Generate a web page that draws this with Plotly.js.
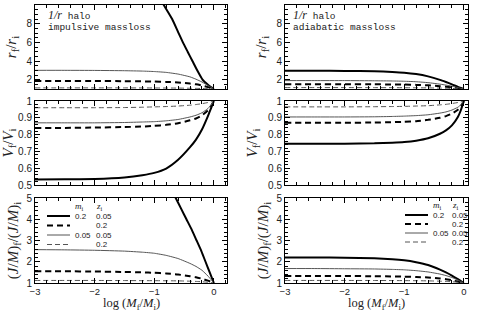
<!DOCTYPE html>
<html><head><meta charset="utf-8">
<script src="https://cdn.plot.ly/plotly-3.0.1.min.js"></script>
<style>html,body{margin:0;padding:0;background:#fff}#c{width:480px;height:313px}</style>
</head><body><div id="c"></div>
<script>
// ---- data ----
const logM = [-3, -2.5, -2, -1.5, -1.2, -1, -0.8, -0.6, -0.4, -0.3, -0.2, -0.1, -0.05, 0];

// impulsive mass loss
const impR_m02z005_x = [-0.95, -0.84, -0.7, -0.6, -0.52, -0.44, -0.36, -0.28, -0.19, -0.1, -0.05, 0];
const impR_m02z005   = [11.2, 10.0, 8.5, 7.1, 6.0, 5.0, 4.0, 3.0, 2.0, 1.45, 1.2, 1.0];
const impR_m02z02    = [1.86, 1.86, 1.85, 1.84, 1.82, 1.8, 1.76, 1.7, 1.58, 1.5, 1.38, 1.2, 1.1, 1.0];
const impR_m005z005  = [3.0, 3.0, 2.99, 2.96, 2.92, 2.87, 2.78, 2.6, 2.3, 2.05, 1.75, 1.38, 1.2, 1.0];
const impR_m005z02   = [1.12, 1.12, 1.12, 1.12, 1.115, 1.11, 1.105, 1.1, 1.08, 1.07, 1.05, 1.03, 1.015, 1.0];

const impV_m02z005   = [0.533, 0.534, 0.536, 0.545, 0.558, 0.572, 0.598, 0.65, 0.725, 0.77, 0.83, 0.91, 0.955, 1.0];
const impV_m02z02    = [0.84, 0.84, 0.842, 0.845, 0.848, 0.852, 0.858, 0.868, 0.885, 0.896, 0.915, 0.945, 0.97, 1.0];
const impV_m005z005  = [0.87, 0.87, 0.87, 0.872, 0.875, 0.877, 0.882, 0.89, 0.905, 0.915, 0.93, 0.955, 0.975, 1.0];
const impV_m005z02   = [0.96, 0.96, 0.96, 0.961, 0.963, 0.965, 0.967, 0.97, 0.975, 0.979, 0.984, 0.991, 0.995, 1.0];

const impJ_m02z005_x = [-0.75, -0.64, -0.55, -0.46, -0.37, -0.29, -0.21, -0.14, -0.07, 0];
const impJ_m02z005   = [5.6, 5.0, 4.5, 4.0, 3.5, 3.0, 2.5, 2.0, 1.5, 1.0];
const impJ_m02z02    = [1.55, 1.55, 1.54, 1.52, 1.5, 1.48, 1.45, 1.4, 1.32, 1.27, 1.2, 1.11, 1.055, 1.0];
const impJ_m005z005  = [2.57, 2.56, 2.54, 2.5, 2.45, 2.4, 2.3, 2.15, 1.92, 1.78, 1.6, 1.33, 1.17, 1.0];
const impJ_m005z02   = [1.12, 1.12, 1.12, 1.115, 1.11, 1.11, 1.105, 1.1, 1.085, 1.075, 1.06, 1.035, 1.02, 1.0];

// adiabatic mass loss
const adiR_m02z005   = [2.95, 2.95, 2.94, 2.9, 2.83, 2.75, 2.6, 2.35, 1.98, 1.75, 1.5, 1.23, 1.11, 1.0];
const adiR_m02z02    = [1.52, 1.52, 1.51, 1.5, 1.49, 1.47, 1.44, 1.39, 1.3, 1.25, 1.18, 1.09, 1.045, 1.0];
const adiR_m005z005  = [1.9, 1.9, 1.9, 1.88, 1.86, 1.83, 1.78, 1.68, 1.52, 1.42, 1.3, 1.15, 1.07, 1.0];
const adiR_m005z02   = [1.15, 1.15, 1.15, 1.145, 1.14, 1.135, 1.13, 1.12, 1.1, 1.08, 1.06, 1.03, 1.015, 1.0];

const adiV_m02z005   = [0.745, 0.745, 0.746, 0.748, 0.752, 0.756, 0.764, 0.778, 0.805, 0.825, 0.855, 0.905, 0.945, 1.0];
const adiV_m02z02    = [0.87, 0.87, 0.87, 0.872, 0.874, 0.876, 0.88, 0.888, 0.9, 0.91, 0.925, 0.948, 0.968, 1.0];
const adiV_m005z005  = [0.905, 0.905, 0.905, 0.906, 0.908, 0.91, 0.913, 0.918, 0.928, 0.935, 0.946, 0.963, 0.978, 1.0];
const adiV_m005z02   = [0.965, 0.965, 0.965, 0.966, 0.967, 0.968, 0.97, 0.972, 0.977, 0.98, 0.985, 0.991, 0.995, 1.0];

const adiJ_m02z005   = [2.2, 2.2, 2.19, 2.16, 2.12, 2.07, 1.98, 1.85, 1.63, 1.5, 1.35, 1.18, 1.09, 1.0];
const adiJ_m02z02    = [1.33, 1.33, 1.33, 1.32, 1.31, 1.3, 1.28, 1.26, 1.21, 1.18, 1.13, 1.07, 1.035, 1.0];
const adiJ_m005z005  = [1.68, 1.68, 1.67, 1.66, 1.64, 1.62, 1.58, 1.52, 1.42, 1.35, 1.26, 1.14, 1.07, 1.0];
const adiJ_m005z02   = [1.12, 1.12, 1.12, 1.118, 1.115, 1.112, 1.108, 1.1, 1.085, 1.075, 1.06, 1.035, 1.02, 1.0];

// legend labels
const legM = ["0.2", "", "0.05", ""];
const legZ = ["0.05", "0.2", "0.05", "0.2"];

// ---- styles ----
const W = 480, H = 313;
const px = v => v / W, py = v => 1 - v / H;
const styles = [
  {color: '#000', width: 2, dash: 'solid'},
  {color: '#000', width: 2, dash: '6px,4px'},
  {color: '#555', width: 1, dash: 'solid'},
  {color: '#555', width: 1, dash: '5px,3px'}
];

function tr(x, y, s, xa, ya) {
  return {x: x, y: y, type: 'scatter', mode: 'lines', xaxis: xa, yaxis: ya,
    line: {color: s.color, width: s.width, dash: s.dash, shape: 'spline', smoothing: 0.45},
    hoverinfo: 'skip', showlegend: false};
}

const data = [
  tr(impR_m02z005_x, impR_m02z005, styles[0], 'x', 'y'),
  tr(logM, impR_m02z02, styles[1], 'x', 'y'),
  tr(logM, impR_m005z005, styles[2], 'x', 'y'),
  tr(logM, impR_m005z02, styles[3], 'x', 'y'),
  tr(logM, adiR_m02z005, styles[0], 'x2', 'y2'),
  tr(logM, adiR_m02z02, styles[1], 'x2', 'y2'),
  tr(logM, adiR_m005z005, styles[2], 'x2', 'y2'),
  tr(logM, adiR_m005z02, styles[3], 'x2', 'y2'),
  tr(logM, impV_m02z005, styles[0], 'x3', 'y3'),
  tr(logM, impV_m02z02, styles[1], 'x3', 'y3'),
  tr(logM, impV_m005z005, styles[2], 'x3', 'y3'),
  tr(logM, impV_m005z02, styles[3], 'x3', 'y3'),
  tr(logM, adiV_m02z005, styles[0], 'x4', 'y4'),
  tr(logM, adiV_m02z02, styles[1], 'x4', 'y4'),
  tr(logM, adiV_m005z005, styles[2], 'x4', 'y4'),
  tr(logM, adiV_m005z02, styles[3], 'x4', 'y4'),
  tr(impJ_m02z005_x, impJ_m02z005, styles[0], 'x5', 'y5'),
  tr(logM, impJ_m02z02, styles[1], 'x5', 'y5'),
  tr(logM, impJ_m005z005, styles[2], 'x5', 'y5'),
  tr(logM, impJ_m005z02, styles[3], 'x5', 'y5'),
  tr(logM, adiJ_m02z005, styles[0], 'x6', 'y6'),
  tr(logM, adiJ_m02z02, styles[1], 'x6', 'y6'),
  tr(logM, adiJ_m005z005, styles[2], 'x6', 'y6'),
  tr(logM, adiJ_m005z02, styles[3], 'x6', 'y6')
];

const tickFont = {family: 'Liberation Sans, Arial, sans-serif', size: 10, color: '#222'};
const xTickFont = {family: 'Liberation Sans, Arial, sans-serif', size: 9.5, color: '#222'};
const titleFont = {family: 'Liberation Serif, Times New Roman, serif', size: 15, color: '#222'};
function ax(extra) {
  return Object.assign({
    showline: true, mirror: 'ticks', linecolor: '#000', linewidth: 1,
    ticks: 'inside', ticklen: 5, tickcolor: '#000', tickwidth: 1,
    zeroline: false, showgrid: false, tickfont: tickFont, fixedrange: true
  }, extra);
}
const minorX = {dtick: 0.2, ticks: 'inside', ticklen: 3, tickcolor: '#000'};
const colL = [px(35), px(227)], colR = [px(285), px(468)];
const rowT = [py(89), py(5)], rowM = [py(185), py(101)], rowB = [py(283), py(198)];
const xL = {range: [-3, 0.22], tick0: 0, dtick: 1, minor: minorX, tickfont: xTickFont};
const xR = {range: [-3, 0.07], tick0: 0, dtick: 1, minor: minorX, tickfont: xTickFont};
const yR = {range: [1, 10], tickmode: 'array', tickvals: [2, 4, 6, 8, 10],
  minor: {tickmode: 'linear', tick0: 0, dtick: 0.5, ticks: 'inside', ticklen: 3, tickcolor: '#000'}};
const yV = {range: [0.5, 1], tick0: 0.5, dtick: 0.1, tickformat: '.1~f',
  minor: {dtick: 0.02, ticks: 'inside', ticklen: 3, tickcolor: '#000'}};
const yJ = {range: [1, 5], tick0: 1, dtick: 1,
  minor: {dtick: 0.2, ticks: 'inside', ticklen: 3, tickcolor: '#000'}};
const tR = {text: '<i>r</i><sub>f</sub>/<i>r</i><sub>i</sub>', font: titleFont, standoff: 6};
const tV = {text: '<i>V</i><sub>f</sub>/<i>V</i><sub>i</sub>', font: titleFont, standoff: 6};
const tJ = {text: '(<i>J</i>/<i>M</i>)<sub>f</sub>/(<i>J</i>/<i>M</i>)<sub>i</sub>', font: titleFont, standoff: 4};

const layout = {
  width: W, height: H, margin: {l: 0, r: 0, t: 0, b: 0},
  paper_bgcolor: '#fff', plot_bgcolor: '#fff', showlegend: false,
  xaxis:  ax(Object.assign({domain: colL, anchor: 'y',  showticklabels: false}, xL)),
  xaxis2: ax(Object.assign({domain: colR, anchor: 'y2', showticklabels: false}, xR)),
  xaxis3: ax(Object.assign({domain: colL, anchor: 'y3', showticklabels: false}, xL)),
  xaxis4: ax(Object.assign({domain: colR, anchor: 'y4', showticklabels: false}, xR)),
  xaxis5: ax(Object.assign({domain: colL, anchor: 'y5'}, xL)),
  xaxis6: ax(Object.assign({domain: colR, anchor: 'y6'}, xR)),
  yaxis:  ax(Object.assign({domain: rowT, anchor: 'x',  title: tR}, yR)),
  yaxis2: ax(Object.assign({domain: rowT, anchor: 'x2', title: tR}, yR)),
  yaxis3: ax(Object.assign({domain: rowM, anchor: 'x3', title: tV}, yV)),
  yaxis4: ax(Object.assign({domain: rowM, anchor: 'x4', title: tV}, yV)),
  yaxis5: ax(Object.assign({domain: rowB, anchor: 'x5', title: tJ}, yJ)),
  yaxis6: ax(Object.assign({domain: rowB, anchor: 'x6', title: tJ}, yJ)),
  shapes: [], annotations: []
};

const monoFont = {family: 'Liberation Mono, Courier New, monospace', size: 9.5, color: '#222'};
const smallFont = {family: 'Liberation Sans, Arial, sans-serif', size: 8, color: '#222'};
function note(x, y, text, font, xanchor, pad) {
  layout.annotations.push({xref: 'paper', yref: 'paper', x: px(x), y: py(y), text: text,
    showarrow: false, xanchor: xanchor || 'left', yanchor: 'middle', font: font,
    borderpad: pad === undefined ? 1 : pad});
}
// x-axis titles (placed below the tick labels)
const xTitleText = 'log (<i>M</i><sub>f</sub>/<i>M</i><sub>i</sub>)';
const xTitleFont = {family: 'Liberation Serif, Times New Roman, serif', size: 12.5, color: '#222'};
note(131, 304, xTitleText, xTitleFont, 'center', 0);
note(376, 304, xTitleText, xTitleFont, 'center', 0);

const halo = '<span style="font-family:Liberation Serif;font-size:12px"><i>1/r</i></span> halo';
note(46, 15, halo, monoFont); note(46, 27, 'impulsive massloss', monoFont);
note(291, 15, halo, monoFont); note(291, 27, 'adiabatic massloss', monoFont);

// legends
function legend(x0, x1, xm, xz, yHead, rowYs) {
  const hf = {family: 'Liberation Serif, serif', size: 9, color: '#222'};
  note(xm, yHead, '<i>m</i><sub>i</sub>', hf);
  note(xz, yHead, '<i>z</i><sub>i</sub>', hf);
  styles.forEach((s, i) => {
    layout.shapes.push({type: 'line', xref: 'paper', yref: 'paper', x0: px(x0), x1: px(x1),
      y0: py(rowYs[i]), y1: py(rowYs[i]), line: {color: s.color, width: s.width, dash: s.dash}});
    if (legM[i]) note(xm, rowYs[i], legM[i], smallFont);
    note(xz, rowYs[i], legZ[i], smallFont);
  });
}
legend(47, 70, 73, 94, 206, [216, 225.5, 235, 244.5]);
legend(405, 428, 431, 450, 205, [215, 224, 233, 242]);

Plotly.newPlot('c', data, layout, {staticPlot: true, displayModeBar: false});
</script></body></html>
